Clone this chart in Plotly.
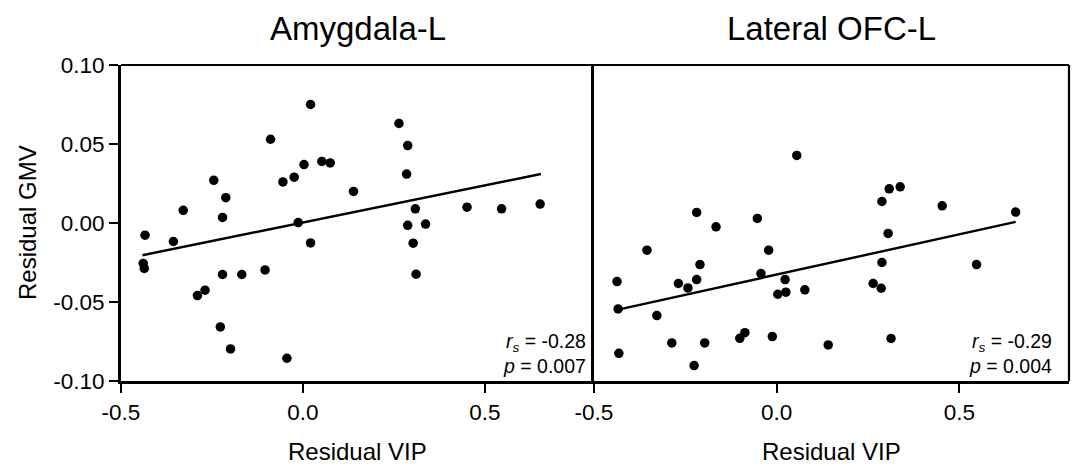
import plotly.graph_objects as go

# ---- data ----
amy_x = [0.021, -0.089, -0.245, -0.212, -0.329, -0.221, -0.055, -0.024, 0.003, 0.052,
         0.075, 0.139, -0.013, 0.264, 0.288, 0.285, 0.309, 0.451, 0.546, 0.652,
         0.288, 0.337, 0.303, 0.311, -0.434, -0.356, -0.439, -0.436, 0.021, -0.221,
         -0.168, -0.104, -0.290, -0.269, -0.227, -0.199, -0.044]
amy_y = [0.075, 0.053, 0.027, 0.016, 0.008, 0.0035, 0.026, 0.029, 0.037, 0.039,
         0.038, 0.020, 0.0003, 0.063, 0.049, 0.031, 0.009, 0.010, 0.009, 0.012,
         -0.0015, -0.0007, -0.0128, -0.0324, -0.0077, -0.0117, -0.0256, -0.0288, -0.0126, -0.0326,
         -0.0326, -0.0297, -0.0459, -0.0425, -0.0658, -0.0797, -0.0856]
amy_fit_x = [-0.441, 0.654]
amy_fit_y = [-0.0204, 0.031]

ofc_x = [0.055, -0.219, -0.166, -0.053, 0.308, 0.338, 0.288, 0.453, 0.654, -0.355,
         -0.022, -0.437, -0.210, -0.219, -0.269, -0.243, -0.043, 0.023, 0.003, 0.025,
         0.077, -0.434, -0.328, -0.287, -0.197, -0.101, -0.087, -0.012, 0.141, -0.432,
         -0.226, 0.305, 0.288, 0.264, 0.286, 0.547, 0.313]
ofc_y = [0.0428, 0.0067, -0.0024, 0.0029, 0.0216, 0.0229, 0.0136, 0.0109, 0.0069, -0.0172,
         -0.0172, -0.0371, -0.0263, -0.0358, -0.0383, -0.0411, -0.0320, -0.0358, -0.0451, -0.0438,
         -0.0423, -0.0544, -0.0586, -0.0759, -0.0759, -0.0730, -0.0694, -0.0719, -0.0772, -0.0825,
         -0.0902, -0.0066, -0.0250, -0.0383, -0.0413, -0.0263, -0.0731]
ofc_fit_x = [-0.434, 0.654]
ofc_fit_y = [-0.0548, 0.0007]

panel_titles = ["Amygdala-L", "Lateral OFC-L"]
stats_text = ["<i>r<sub>s</sub></i> = -0.28<br><i>p</i> = 0.007",
              "<i>r<sub>s</sub></i> = -0.29<br><i>p</i> = 0.004"]
stats_x = [0.784, 0.759]
x_tickvals = [-0.5, 0.0, 0.5]
x_ticktext = ["-0.5", "0.0", "0.5"]
y_tickvals = [0.10, 0.05, 0.0, -0.05, -0.10]
y_ticktext = ["0.10", "0.05", "0.00", "-0.05", "-0.10"]
x_title = "Residual VIP"
y_title = "Residual GMV"

FONT = "Liberation Sans, Arial, Helvetica, sans-serif"
W, H = 1077, 466
L, R, T, B = 121, 8, 65, 85
split = (594 - L) / (W - L - R)

fig = go.Figure()
for i, (xs, ys, fx, fy) in enumerate([(amy_x, amy_y, amy_fit_x, amy_fit_y),
                                      (ofc_x, ofc_y, ofc_fit_x, ofc_fit_y)]):
    xa = "x" if i == 0 else "x2"
    ya = "y" if i == 0 else "y2"
    fig.add_trace(go.Scatter(x=fx, y=fy, mode="lines", xaxis=xa, yaxis=ya,
                             line=dict(color="black", width=2.4), showlegend=False,
                             hoverinfo="skip"))
    fig.add_trace(go.Scatter(x=xs, y=ys, mode="markers", xaxis=xa, yaxis=ya,
                             marker=dict(color="black", size=9.5, line=dict(width=0)),
                             showlegend=False))

common_x = dict(range=[-0.5, 0.8], tickvals=x_tickvals, ticktext=x_ticktext,
                showgrid=False, zeroline=False, showline=True, linecolor="black",
                linewidth=3, ticks="outside", ticklen=9, tickwidth=2, tickcolor="black",
                tickfont=dict(family=FONT, size=22.5, color="black"))
common_y = dict(range=[-0.1, 0.1], showgrid=False, zeroline=False, showline=True,
                linecolor="black", linewidth=3)

fig.update_layout(
    width=W, height=H,
    margin=dict(l=L, r=R, t=T, b=B),
    paper_bgcolor="white", plot_bgcolor="white",
    font=dict(family=FONT, color="black"),
    xaxis=dict(domain=[0, split], anchor="y", **common_x),
    xaxis2=dict(domain=[split, 1], anchor="y2", **common_x),
    yaxis=dict(anchor="x", tickvals=y_tickvals, ticktext=y_ticktext, ticks="outside",
               ticklen=9, tickwidth=2, tickcolor="black",
               tickfont=dict(family=FONT, size=22.5, color="black"), **common_y),
    yaxis2=dict(anchor="x2", showticklabels=False, ticks="", **common_y),
)

# top and right frame lines
fig.add_shape(type="line", xref="paper", yref="paper", x0=0, x1=1, y0=1, y1=1,
              line=dict(color="black", width=2.2))
fig.add_shape(type="line", xref="paper", yref="paper", x0=1, x1=1, y0=0, y1=1,
              line=dict(color="black", width=2.2))

centers = [split / 2, (split + 1) / 2]
for i in range(2):
    fig.add_annotation(text=panel_titles[i], xref="paper", yref="paper", x=centers[i], y=1,
                       xanchor="center", yanchor="middle", yshift=37, showarrow=False,
                       font=dict(family=FONT, size=33, color="black"))
    fig.add_annotation(text=x_title, xref="paper", yref="paper", x=centers[i], y=0,
                       xanchor="center", yanchor="middle", yshift=-70, showarrow=False,
                       font=dict(family=FONT, size=24, color="black"))
    fig.add_annotation(text=stats_text[i], xref="x" if i == 0 else "x2",
                       yref="y" if i == 0 else "y2", x=stats_x[i], y=-0.1,
                       xanchor="right", yanchor="bottom", align="right", yshift=2,
                       showarrow=False, font=dict(family=FONT, size=19.5, color="black"))

fig.add_annotation(text=y_title, xref="paper", yref="paper", x=0, y=0.5, xshift=-94,
                   textangle=-90, showarrow=False, xanchor="center", yanchor="middle",
                   font=dict(family=FONT, size=24, color="black"))

fig.write_html("out.html", config={"displayModeBar": False},
               post_script="document.body.style.margin='0';document.body.style.overflow='hidden';")
